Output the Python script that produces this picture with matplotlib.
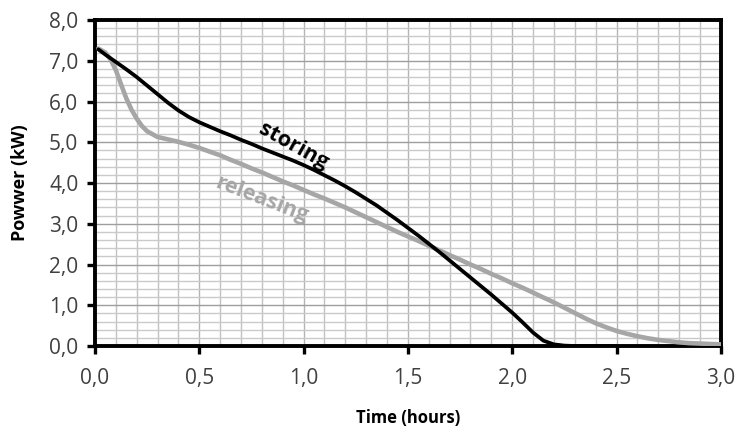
import matplotlib
matplotlib.use("Agg")
import matplotlib.pyplot as plt
from matplotlib.ticker import MultipleLocator, FuncFormatter

# storing (black)
t_storing = [0.016, 0.05, 0.10, 0.15, 0.20, 0.25, 0.30, 0.35, 0.40, 0.45, 0.50,
             0.55, 0.60, 0.65, 0.70, 0.75, 0.80, 0.85, 0.90, 0.95, 1.00,
             1.05, 1.10, 1.15, 1.20, 1.25, 1.30, 1.35, 1.40, 1.45, 1.50,
             1.55, 1.60, 1.65, 1.70, 1.75, 1.80, 1.85, 1.90, 1.95, 2.00,
             2.05, 2.10, 2.15, 2.20, 2.25, 2.30, 2.40, 2.50]
p_storing = [7.28, 7.15, 6.97, 6.79, 6.60, 6.39, 6.18, 5.97, 5.78, 5.62, 5.49,
             5.38, 5.27, 5.17, 5.06, 4.96, 4.85, 4.75, 4.65, 4.55, 4.44,
             4.32, 4.19, 4.06, 3.92, 3.77, 3.61, 3.45, 3.27, 3.09, 2.90,
             2.71, 2.51, 2.31, 2.10, 1.89, 1.68, 1.47, 1.26, 1.04, 0.82,
             0.58, 0.33, 0.13, 0.04, 0.01, 0.0, 0.0, 0.0]

# releasing (gray)
t_releasing = [0.016, 0.05, 0.075, 0.10, 0.125, 0.15, 0.175, 0.20, 0.225, 0.25, 0.30,
               0.35, 0.40, 0.45, 0.50, 0.55, 0.60, 0.65, 0.70, 0.75, 0.80,
               0.85, 0.90, 0.95, 1.00, 1.05, 1.10, 1.15, 1.20, 1.25, 1.30,
               1.35, 1.40, 1.45, 1.50, 1.55, 1.60, 1.65, 1.70, 1.75, 1.80,
               1.85, 1.90, 1.95, 2.00, 2.05, 2.10, 2.15, 2.20, 2.25, 2.30,
               2.35, 2.40, 2.45, 2.50, 2.55, 2.60, 2.65, 2.70, 2.75, 2.80,
               2.85, 2.90, 2.95, 3.00]
p_releasing = [7.30, 7.20, 7.03, 6.77, 6.42, 6.08, 5.80, 5.58, 5.40, 5.27, 5.13,
               5.07, 5.01, 4.94, 4.86, 4.77, 4.68, 4.57, 4.47, 4.36, 4.26,
               4.15, 4.04, 3.94, 3.83, 3.72, 3.62, 3.51, 3.40, 3.28, 3.16,
               3.04, 2.92, 2.80, 2.69, 2.58, 2.46, 2.35, 2.23, 2.12, 2.00,
               1.89, 1.77, 1.66, 1.54, 1.43, 1.31, 1.19, 1.07, 0.94, 0.81,
               0.68, 0.56, 0.46, 0.37, 0.30, 0.24, 0.19, 0.15, 0.12, 0.09,
               0.07, 0.06, 0.05, 0.04]

x_ticks = [0.0, 0.5, 1.0, 1.5, 2.0, 2.5, 3.0]
y_ticks = [0, 1, 2, 3, 4, 5, 6, 7, 8]

plt.rcParams["font.family"] = ["Open Sans", "DejaVu Sans"]

fig = plt.figure(figsize=(7.38, 4.33), dpi=100)
ax = fig.add_axes([0.1287, 0.2009, 0.848, 0.7529])

ax.set_xlim(0, 3.0)
ax.set_ylim(0, 8.0)

# grid
ax.xaxis.set_minor_locator(MultipleLocator(0.1))
ax.yaxis.set_minor_locator(MultipleLocator(0.2))
ax.set_xticks(x_ticks)
ax.set_yticks(y_ticks)
ax.grid(which="minor", axis="x", color="#c0c0c0", linewidth=1.0)
ax.grid(which="major", axis="x", color="#b4b4b4", linewidth=1.0)
ax.grid(which="minor", axis="y", color="#cacaca", linewidth=1.0)
ax.grid(which="major", axis="y", color="#9e9e9e", linewidth=1.0)
ax.set_axisbelow(True)

ax.plot(t_releasing, p_releasing, color="#a6a6a6", linewidth=3.3,
        solid_capstyle="round", solid_joinstyle="round", zorder=3)
ax.plot(t_storing, p_storing, color="black", linewidth=2.7,
        solid_capstyle="round", solid_joinstyle="round", zorder=4)

fmt = FuncFormatter(lambda v, p: f"{v:.1f}".replace(".", ","))
ax.xaxis.set_major_formatter(fmt)
ax.yaxis.set_major_formatter(fmt)

ax.tick_params(which="minor", length=0)
ax.tick_params(axis="x", which="major", direction="out", length=6, width=2.4,
               pad=10, labelsize=15, labelcolor="#404040")
ax.tick_params(axis="y", which="major", direction="out", length=6, width=2.4,
               pad=6, labelsize=15, labelcolor="#404040")

for s in ax.spines.values():
    s.set_linewidth(2.8)
    s.set_color("black")

fig.text(408 / 738, 1 - 418 / 433, "Time (hours)", ha="center", va="center",
         fontsize=12, fontweight="bold")
fig.text(20 / 738, 1 - 183 / 433, "Powwer (kW)", ha="center", va="center",
         fontsize=13, fontweight="bold", rotation=90)

ax.text(0.95, 4.90, "storing", rotation=-29, ha="center", va="center",
        fontsize=15.5, fontweight="bold", color="black", rotation_mode="anchor")
ax.text(0.80, 3.58, "releasing", rotation=-21, ha="center", va="center",
        fontsize=15.5, fontweight="bold", color="#a6a6a6", rotation_mode="anchor")

fig.savefig("out.png", dpi=100)
